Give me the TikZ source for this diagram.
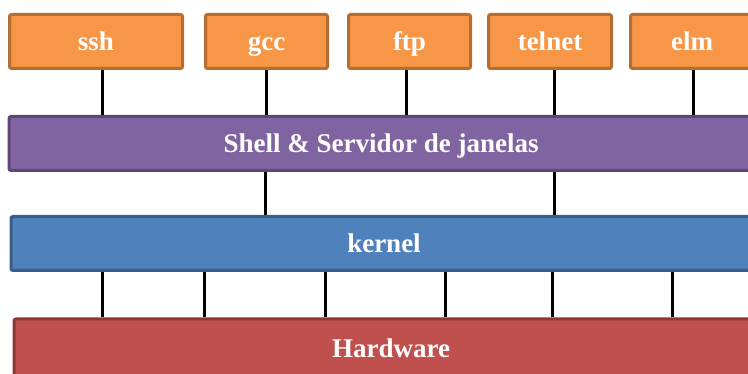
\documentclass[tikz,border=0pt]{standalone}
\usepackage{fontspec}
\setmainfont{Liberation Serif}
\usepackage{tikz}
\definecolor{appfill}{HTML}{F79646}
\definecolor{appline}{HTML}{B66D31}
\definecolor{shellfill}{HTML}{8064A2}
\definecolor{shellline}{HTML}{5C4776}
\definecolor{kernfill}{HTML}{4F81BD}
\definecolor{kernline}{HTML}{385D8A}
\definecolor{hwfill}{HTML}{C0504D}
\definecolor{hwline}{HTML}{8C3836}
\tikzstyle{box}=[draw,rectangle,line width=3pt,rounded corners=2pt,minimum height=54pt,text=white,text height=23pt,text depth=5pt,font=\fontsize{27}{30}\selectfont\bfseries]
\tikzstyle{app}=[box,draw=appline,fill=appfill]
\tikzstyle{lnk}=[draw,line width=3pt]

\begin{document}
\begin{tikzpicture}[x=1pt,y=-1pt]
      \useasboundingbox (0,0) rectangle (748,374);
      \node [app, minimum width=173pt] (ssh) at (96,41.5) {ssh};
      \node [app, minimum width=122pt] (gcc) at (266.5,41.5) {gcc};
      \node [app, minimum width=122pt] (ftp) at (409.5,41.5) {ftp};
      \node [app, minimum width=123pt] (telnet) at (550,41.5) {telnet};
      \node [app, minimum width=123pt] (elm) at (692,41.5) {elm};
      \node [box, draw=shellline, fill=shellfill, minimum width=744pt] (shell) at (381,143.5) {Shell \& Servidor de janelas};
      \node [box, draw=kernline, fill=kernfill, minimum width=746pt] (kernel) at (384,243.5) {kernel};
      \node [box, draw=hwline, fill=hwfill, minimum width=754pt, minimum height=60pt] (hw) at (391,349) {Hardware};
      \path [lnk]
      (ssh.south -| 102,0) -- (shell.north -| 102,0)
      (gcc.south -| 266,0) -- (shell.north -| 266,0)
      (ftp.south -| 406,0) -- (shell.north -| 406,0)
      (telnet.south -| 554,0) -- (shell.north -| 554,0)
      (elm.south -| 693,0) -- (shell.north -| 693,0)
      (shell.south -| 265,0) -- (kernel.north -| 265,0)
      (shell.south -| 554,0) -- (kernel.north -| 554,0)
      (kernel.south -| 102,0) -- (hw.north -| 102,0)
      (kernel.south -| 204,0) -- (hw.north -| 204,0)
      (kernel.south -| 325,0) -- (hw.north -| 325,0)
      (kernel.south -| 445,0) -- (hw.north -| 445,0)
      (kernel.south -| 552,0) -- (hw.north -| 552,0)
      (kernel.south -| 672,0) -- (hw.north -| 672,0);
    \end{tikzpicture}
\end{document}
